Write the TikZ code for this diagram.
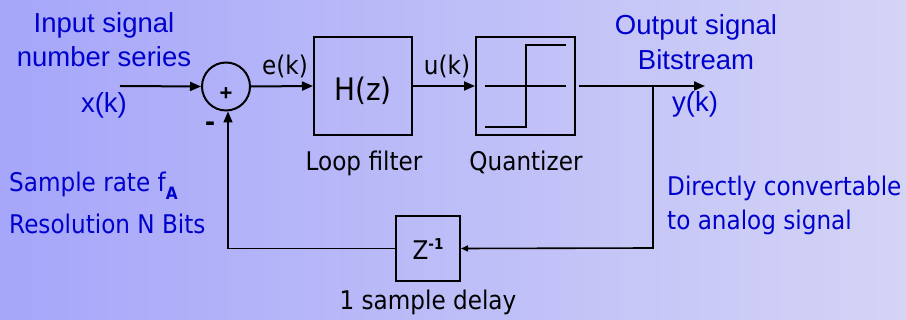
\documentclass[tikz,border=0pt]{standalone}
\usepackage{fontspec}
\setmainfont{Liberation Sans}
\newfontfamily\tah[FakeStretch=0.9]{DejaVu Sans}
\usetikzlibrary{arrows.meta}
\definecolor{bgA}{RGB}{166,166,250}
\definecolor{bgB}{RGB}{212,212,246}
\definecolor{txtblue}{RGB}{0,0,204}
\begin{document}
\begin{tikzpicture}[x=1pt,y=-1pt,
  wire/.style={line width=2pt},
  arr/.style={wire,-{Triangle[length=11pt,width=9pt]}},
  fb/.style={line width=1.6pt},
  blk/.style={draw,line width=2pt,rectangle,inner sep=0pt},
  ar/.style={font=\fontsize{27.5}{30}\selectfont, text=txtblue, inner sep=0pt},
  tb/.style={font=\tah\fontsize{25.7}{28}\selectfont, inner sep=0pt},
  tbb/.style={tb, text=txtblue}
]
\useasboundingbox (0,0) rectangle (906,320);
\shade[left color=bgA, right color=bgB] (0,0) rectangle (906,320);

% blocks
\node[circle, draw, line width=2pt, minimum size=48pt, inner sep=0pt] (sum) at (226,86.5) {};
\node[font=\fontsize{22}{24}\selectfont\bfseries, inner sep=0pt] (plus) at (226,94) {+};
\node[font=\fontsize{30}{32}\selectfont\bfseries, inner sep=0pt] (minus) at (210,127) {-};
\node[blk, minimum width=98pt, minimum height=98pt] (H) at (363,86) {};
\node[tb, font=\tah\fontsize{31}{34}\selectfont, anchor=base] (Ht) at (363,101) {H(z)};
\node[blk, minimum width=99pt, minimum height=98pt] (Q) at (525.5,86) {};
\node[blk, minimum width=64pt, minimum height=65pt] (Z) at (428,248.5) {};
\node[tb, anchor=base] (Zt) at (428,260) {Z\raisebox{0.42em}{\fontsize{15}{16}\selectfont\bfseries -1}};

% quantizer characteristic
\draw[wire] (485,86) -- (566,86);
\draw[wire] (485,127) -- (526,127) -- (526,45) -- (566,45);

% coordinates
\coordinate (in) at (120,86);
\coordinate (out) at (705,86);
\coordinate (br) at (653,86);
\coordinate (c1) at (653,248);

% connectors
\draw[arr] (in) -- (sum.west);
\draw[arr] (sum.east) -- (H.west);
\draw[arr] (H.east) -- (Q.west);
\draw[arr, shorten <=3pt] (Q.east) -- (out);
\draw[fb, -{Triangle[length=7pt,width=6pt]}] (br) -- (c1) -- (Z.east);
\draw[fb, -{Triangle[length=11pt,width=9pt]}] (Z.west) -| ([xshift=2pt]sum.south);

% labels
\node[ar, anchor=base] (l1) at (104,33) {Input signal};
\node[ar, anchor=base] (l2) at (104,67) {number series};
\node[ar, anchor=base] (l3) at (104,113) {x(k)};
\node[tb, anchor=base] (l4) at (285,75) {e(k)};
\node[tb, anchor=base] (l5) at (447,75) {u(k)};
\node[tb, anchor=base] (l6) at (364,171) {Loop filter};
\node[tb, anchor=base] (l7) at (526,171) {Quantizer};
\node[ar, anchor=base] (l8) at (696,35) {Output signal};
\node[ar, anchor=base] (l9) at (696,70) {Bitstream};
\node[ar, anchor=base] (l10) at (695,112) {y(k)};
\node[tbb, anchor=base west] (l11) at (9,192) {Sample rate f\raisebox{-0.28em}{\fontsize{17}{18}\selectfont\bfseries A}};
\node[tbb, anchor=base west] (l12) at (9,234) {Resolution N Bits};
\node[tbb, anchor=base west] (l13) at (667,196) {Directly convertable};
\node[tbb, anchor=base west] (l14) at (667,230) {to analog signal};
\node[tb, anchor=base] (l15) at (428,310) {1 sample delay};
\end{tikzpicture}
\end{document}
